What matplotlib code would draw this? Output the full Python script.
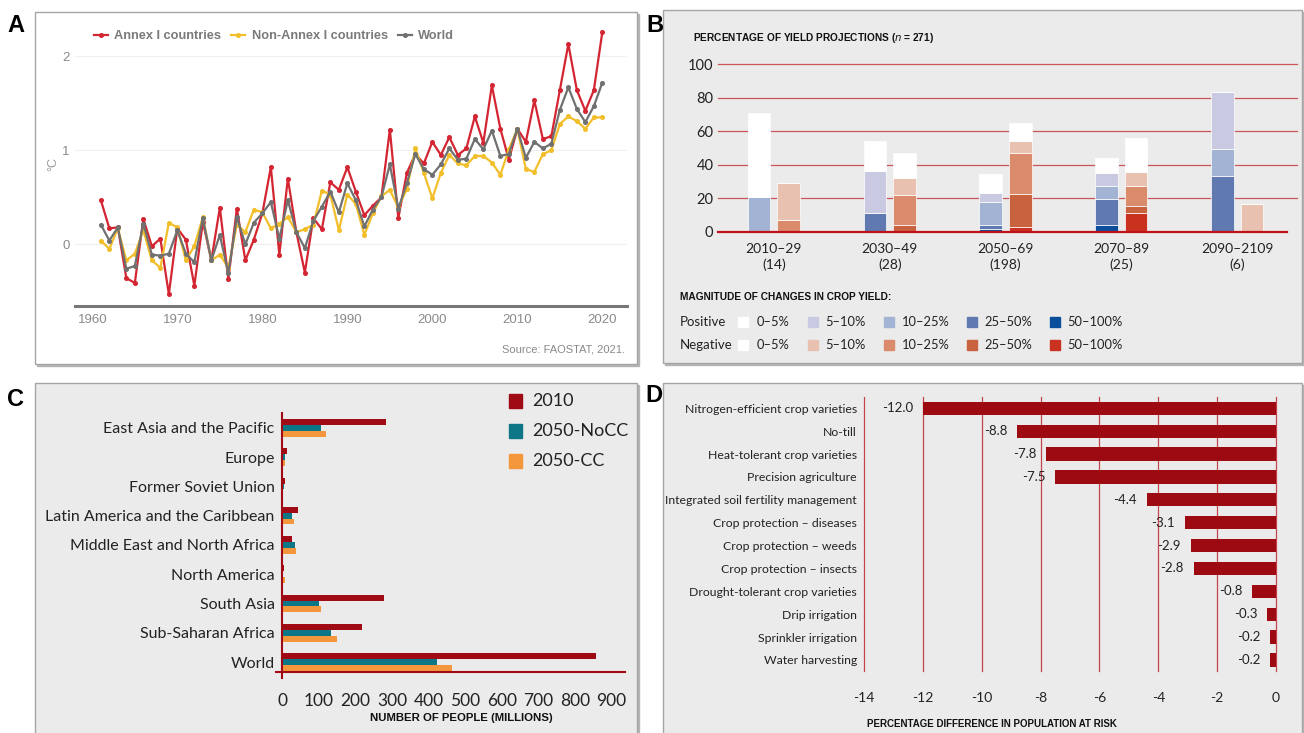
import numpy as np
import matplotlib.pyplot as plt
from matplotlib.patches import Rectangle

plt.rcParams['axes.unicode_minus'] = False

# ---- panel A: temperature change (deg C) ----
years = np.arange(1961, 2021)
annex = [0.47, 0.17, 0.18, -0.36, -0.41, 0.27, -0.02, 0.06, -0.53, 0.17,
         0.05, -0.44, 0.24, -0.17, 0.39, -0.37, 0.38, -0.17, 0.05, 0.33,
         0.82, -0.11, 0.70, 0.13, -0.30, 0.28, 0.16, 0.66, 0.58, 0.82,
         0.56, 0.31, 0.41, 0.50, 1.22, 0.28, 0.76, 0.96, 0.86, 1.09,
         0.95, 1.14, 0.95, 1.02, 1.36, 1.08, 1.69, 1.23, 0.90, 1.23,
         1.09, 1.53, 1.12, 1.15, 1.64, 2.13, 1.64, 1.42, 1.64, 2.26]
non_annex = [0.04, -0.05, 0.17, -0.17, -0.10, 0.15, -0.17, -0.25, 0.23, 0.18,
             -0.17, -0.02, 0.29, -0.17, -0.11, -0.25, 0.21, 0.13, 0.37, 0.34,
             0.17, 0.22, 0.29, 0.13, 0.16, 0.21, 0.57, 0.53, 0.15, 0.53,
             0.43, 0.10, 0.33, 0.51, 0.58, 0.39, 0.59, 1.02, 0.76, 0.49,
             0.76, 0.95, 0.86, 0.84, 0.94, 0.94, 0.87, 0.74, 1.01, 1.23,
             0.80, 0.77, 0.96, 1.00, 1.28, 1.36, 1.31, 1.23, 1.35, 1.35]
world = [0.21, 0.04, 0.18, -0.26, -0.23, 0.22, -0.11, -0.12, -0.10, 0.15,
         -0.10, -0.19, 0.28, -0.17, 0.10, -0.31, 0.29, 0.00, 0.23, 0.33,
         0.45, 0.06, 0.47, 0.13, -0.04, 0.25, 0.40, 0.56, 0.34, 0.65,
         0.47, 0.19, 0.37, 0.50, 0.85, 0.38, 0.65, 0.96, 0.80, 0.74,
         0.85, 1.02, 0.90, 0.91, 1.12, 1.01, 1.21, 0.94, 0.96, 1.23,
         0.92, 1.09, 1.02, 1.07, 1.43, 1.67, 1.44, 1.30, 1.47, 1.72]

# ---- panel B: share of yield projections (%) ----
periods = ['2010–29\n(14)', '2030–49\n(28)', '2050–69\n(198)', '2070–89\n(25)', '2090–2109\n(6)']
bins = ['50–100%', '25–50%', '10–25%', '5–10%', '0–5%']
pos_50_100 = [0, 0, 1.4, 4.0, 0]
pos_25_50 = [0, 11.0, 2.6, 15.7, 33.3]
pos_10_25 = [21.0, 0, 13.7, 7.8, 16.3]
pos_5_10 = [0, 25.0, 5.3, 7.8, 33.9]
pos_0_5 = [50.0, 18.0, 11.7, 8.7, 0]
neg_50_100 = [0, 0, 2.8, 11.4, 0]
neg_25_50 = [0, 4.0, 19.9, 4.1, 0]
neg_10_25 = [7.0, 18.0, 24.3, 12.0, 0]
neg_5_10 = [22.0, 10.3, 7.2, 8.2, 16.5]
neg_0_5 = [0, 14.5, 10.8, 20.1, 0]
pos_colors = ['#0b4f9c', '#6079b1', '#a3b3d3', '#c9c9e1', '#ffffff']
neg_colors = ['#c9321f', '#c9623f', '#da8b6b', '#e9c1b1', '#ffffff']

# ---- panel C: people at risk of hunger (millions) ----
regions = ['East Asia and the Pacific', 'Europe', 'Former Soviet Union',
           'Latin America and the Caribbean', 'Middle East and North Africa',
           'North America', 'South Asia', 'Sub-Saharan Africa', 'World']
people_2010 = [284, 12, 8, 43, 28, 4, 277, 219, 857]
people_nocc = [107, 8, 4, 28, 36, 3, 101, 132, 423]
people_cc = [119, 8, 3, 31, 39, 8, 107, 151, 465]

# ---- panel D: change in population at risk (%) ----
techs = ['Nitrogen-efficient crop varieties', 'No-till', 'Heat-tolerant crop varieties',
         'Precision agriculture', 'Integrated soil fertility management',
         'Crop protection – diseases', 'Crop protection – weeds',
         'Crop protection – insects', 'Drought-tolerant crop varieties',
         'Drip irrigation', 'Sprinkler irrigation', 'Water harvesting']
risk_change = [-12.0, -8.8, -7.8, -7.5, -4.4, -3.1, -2.9, -2.8, -0.8, -0.3, -0.2, -0.2]

W, H = 1304, 733
fig = plt.figure(figsize=(W / 100, H / 100), dpi=100)

SANS = ['Lato', 'DejaVu Sans']
NARROW = ['Liberation Sans', 'DejaVu Sans']
ARIAL = ['Liberation Sans', 'DejaVu Sans']


def fx(x):
    return x / W


def fy(y):
    return 1 - y / H


def box(x0, y0, x1, y1):
    return [x0 / W, 1 - y1 / H, (x1 - x0) / W, (y1 - y0) / H]


def frame(x0, y0, x1, y1, face):
    fig.patches.append(Rectangle((fx(x0 + 2), fy(y1 + 2)), (x1 - x0) / W, (y1 - y0) / H,
                                 transform=fig.transFigure, color='#b5b5b5', zorder=-3))
    fig.patches.append(Rectangle((fx(x0), fy(y1)), (x1 - x0) / W, (y1 - y0) / H,
                                 transform=fig.transFigure, facecolor=face,
                                 edgecolor='#a5a5a5', lw=1, zorder=-2))


frame(35, 12, 637, 364, 'white')
frame(663, 10, 1302, 363, '#ebebeb')
frame(35, 383, 637, 745, '#ebebeb')
frame(663, 383, 1302, 745, '#ebebeb')

for lab, x, y in [('A', 16, 26), ('B', 655, 25), ('C', 16, 399), ('D', 654, 395)]:
    fig.text(fx(x), fy(y), lab, fontsize=17, weight='bold', ha='center', va='center',
             family=ARIAL)

# ================= A =================
axA = fig.add_axes(box(75, 22, 627, 306))
axA.set_facecolor('none')
for v in [0, 1, 2]:
    axA.axhline(v, color='#f0f0f0', lw=0.9, zorder=0)
cols = ['#d42532', '#f2bf2a', '#707070']
names = ['Annex I countries', 'Non-Annex I countries', 'World']
for series, c, n in zip([annex, non_annex, world], cols, names):
    axA.plot(years, series, color=c, lw=1.6, marker='o', ms=2.6, label=n)
axA.set_xlim(1957.96, 2022.9)
axA.set_ylim(-0.656, 2.365)
for s in ['top', 'right', 'left']:
    axA.spines[s].set_visible(False)
axA.spines['bottom'].set_color('#777777')
axA.spines['bottom'].set_linewidth(2.2)
axA.set_xticks(range(1960, 2021, 10))
axA.set_yticks([0, 1, 2])
axA.tick_params(length=0, labelsize=9.5, labelcolor='#8a8a8a', pad=6, labelfontfamily=ARIAL)
axA.tick_params(axis='y', pad=4)
axA.set_ylabel('°C', color='#9a9a9a', fontsize=9, labelpad=2, family=ARIAL)
leg = axA.legend(loc='center left', bbox_to_anchor=(fx(82), fy(36)),
                 bbox_transform=fig.transFigure, ncol=3, frameon=False,
                 handlelength=1.1, columnspacing=0.8, handletextpad=0.5,
                 prop={'family': ARIAL, 'weight': 'bold', 'size': 9.2})
for t in leg.get_texts():
    t.set_color('#7a7a7a')
fig.text(fx(625), fy(349), 'Source: FAOSTAT, 2021.', ha='right', va='center',
         fontsize=8, color='#8a8a8a', family=ARIAL)

# ================= B =================
axB = fig.add_axes(box(717.5, 64.3, 1296.6, 231.7))
axB.set_facecolor('none')
for v in range(20, 101, 20):
    axB.axhline(v, color='#c9555a', lw=0.9, zorder=0, clip_on=False)
axB.plot([-0.487, 4.43], [0, 0], color='#c0101a', lw=1.6, zorder=5, clip_on=False)
x = np.arange(len(periods))
bw, off = 0.195, 0.128
pos_stack = [pos_50_100, pos_25_50, pos_10_25, pos_5_10, pos_0_5]
neg_stack = [neg_50_100, neg_25_50, neg_10_25, neg_5_10, neg_0_5]
base_p = np.zeros(len(periods))
base_n = np.zeros(len(periods))
for vals, c in zip(pos_stack, pos_colors):
    axB.bar(x - off, vals, bw, bottom=base_p, color=c, edgecolor='white', lw=0.5, zorder=2)
    base_p += np.array(vals)
for vals, c in zip(neg_stack, neg_colors):
    axB.bar(x + off, vals, bw, bottom=base_n, color=c, edgecolor='white', lw=0.5, zorder=2)
    base_n += np.array(vals)
axB.set_xlim(-0.487, 4.514)
axB.set_ylim(0, 100)
for s in axB.spines.values():
    s.set_visible(False)
axB.set_yticks(range(0, 101, 20))
axB.set_xticks(x)
axB.set_xticklabels(periods, linespacing=1.35)
axB.tick_params(length=0, labelsize=10, labelcolor='#222222', labelfontfamily=SANS)
axB.tick_params(axis='y', pad=3, labelsize=10.5)
axB.tick_params(axis='x', pad=8)
fig.text(fx(693), fy(38), 'PERCENTAGE OF YIELD PROJECTIONS ($\\it{n}$ = 271)',
         ha='left', va='center', fontsize=7.3, weight='bold', family=NARROW, color='#111111')
fig.text(fx(680.5), fy(297), 'MAGNITUDE OF CHANGES IN CROP YIELD:', ha='left',
         va='center', fontsize=7.3, weight='bold', family=NARROW, color='#111111')
leg_sq_x = [743, 812.5, 888.5, 971.5, 1054.5]
leg_txt_x = [756.5, 825.5, 902, 984, 1067]
for row_y, row_name, colors in [(321.7, 'Positive', pos_colors), (345, 'Negative', neg_colors)]:
    fig.text(fx(680), fy(row_y), row_name, ha='left', va='center', fontsize=9.5,
             family=SANS, color='#222222')
    for i in range(5):
        c = colors[4 - i]
        fig.patches.append(Rectangle((fx(leg_sq_x[i] - 5), fy(row_y + 5)), 10 / W, 10 / H,
                                     transform=fig.transFigure, color=c, zorder=3))
        fig.text(fx(leg_txt_x[i]), fy(row_y), bins[4 - i], ha='left', va='center',
                 fontsize=9.3, family=SANS, color='#222222')

# ================= C =================
axC = fig.add_axes(box(276, 413, 625, 671.7))
axC.set_facecolor('none')
y = np.arange(len(regions))
h = 0.2
axC.barh(y - h, people_2010, h, color='#a00a14', label='2010')
axC.barh(y, people_nocc, h, color='#0e7787', label='2050-NoCC')
axC.barh(y + h, people_cc, h, color='#f4973c', label='2050-CC')
axC.set_xlim(-17, 937)
axC.set_ylim(8.33, -0.51)
for s in ['top', 'right', 'left']:
    axC.spines[s].set_visible(False)
axC.spines['bottom'].set_color('#a00a14')
axC.spines['bottom'].set_linewidth(1.5)
axC.axvline(0, color='#a00a14', lw=1.5, ymin=-0.025, ymax=1, clip_on=False)
axC.set_yticks(y)
axC.set_yticklabels(regions)
axC.set_xticks(range(0, 901, 100))
axC.tick_params(length=0, labelcolor='#222222', labelfontfamily=SANS)
axC.tick_params(axis='y', labelsize=11.5, pad=1)
axC.tick_params(axis='x', labelsize=12.5, pad=15)
fig.text(fx(461), fy(718), 'NUMBER OF PEOPLE (MILLIONS)', ha='center', va='center',
         fontsize=8.2, weight='bold', family=NARROW, color='#111111')
for ly, name, c in [(400.7, '2010', '#a00a14'), (430.7, '2050-NoCC', '#0e7787'),
                    (460.7, '2050-CC', '#f4973c')]:
    fig.patches.append(Rectangle((fx(508.5), fy(ly + 7)), 13.5 / W, 14 / H,
                                 transform=fig.transFigure, color=c, zorder=3))
    fig.text(fx(532), fy(ly), name, ha='left', va='center', fontsize=13,
             family=SANS, color='#222222')

# ================= D =================
axD = fig.add_axes(box(864, 396.7, 1276, 670.7))
axD.set_facecolor('none')
for v in range(-14, 1, 2):
    axD.axvline(v, color='#c4464d', lw=0.9, zorder=0, clip_on=False)
yd = np.arange(len(techs))
axD.barh(yd, risk_change, 0.58, color='#9e0a12', zorder=2)
for yy, v in zip(yd, risk_change):
    axD.annotate(f'{v:.1f}', (v, yy), xytext=(-7, 0), textcoords='offset points',
                 ha='right', va='center', fontsize=9.5, family=SANS, color='#222222')
axD.set_xlim(-14, 0)
axD.set_ylim(11.47, -0.507)
for s in axD.spines.values():
    s.set_visible(False)
axD.set_yticks(yd)
axD.set_yticklabels(techs)
axD.set_xticks(range(-14, 1, 2))
axD.tick_params(length=0, labelcolor='#222222', labelfontfamily=SANS)
axD.tick_params(axis='y', labelsize=8.8, pad=5)
axD.tick_params(axis='x', labelsize=10, pad=15)
fig.text(fx(992), fy(724), 'PERCENTAGE DIFFERENCE IN POPULATION AT RISK', ha='center',
         va='center', fontsize=7, weight='bold', family=NARROW, color='#111111')

fig.savefig('out.png', dpi=100)
